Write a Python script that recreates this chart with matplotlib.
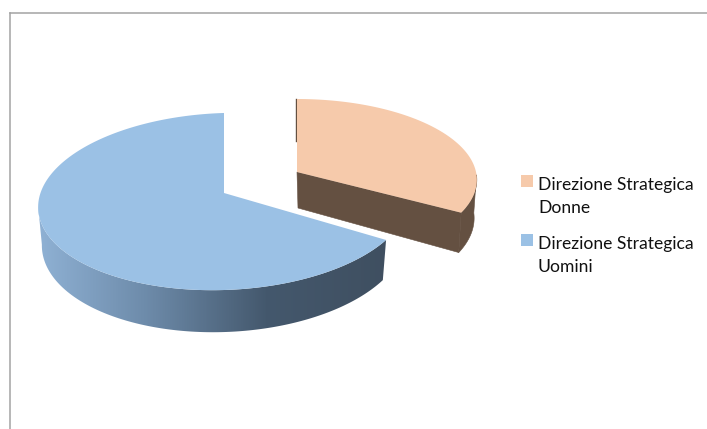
import numpy as np
import matplotlib
matplotlib.use("Agg")
import matplotlib.pyplot as plt
from matplotlib.colors import LinearSegmentedColormap
from matplotlib.legend_handler import HandlerPatch
from matplotlib.patches import Patch, Polygon, Rectangle

# Data
labels = ["Direzione Strategica\nDonne", "Direzione Strategica\nUomini"]
shares = [33.75, 66.25]

W, H = 707, 429
colors_top = ["#F6CAAB", "#9BC1E5"]
color_orange_side = "#645041"
side_cmap = LinearSegmentedColormap.from_list(
    "side", [(0, "#8FB1D4"), (0.3, "#6E8CAB"), (0.65, "#44586D"), (1, "#3F4F60")])

plt.rcParams["font.family"] = ["Lato", "DejaVu Sans"]
fig = plt.figure(figsize=(W / 100, H / 100), dpi=100)
X0, Y0 = 9.6, 13.0
ax = fig.add_axes([X0 / W, 0, 1 - X0 / W, (H - Y0) / H])
ax.set_xlim(X0, W)
ax.set_ylim(H, Y0)
ax.set_xticks([])
ax.set_yticks([])
for s in ("right", "bottom"):
    ax.spines[s].set_visible(False)
for s in ("left", "top"):
    ax.spines[s].set_color("#a3a3a3")
    ax.spines[s].set_linewidth(1.1)

K = 0.096  # perspective strength


def project(theta, cx, cy, rx, ry, shear):
    c, s = np.cos(theta), np.sin(theta)
    f = 1 / (1 + K * c)
    x = rx * s * f
    y = -ry * c * f - shear * x
    return cx + x, cy + y, f


def ring(start, end, geom, n=160):
    th = np.radians(np.linspace(start, end, n))
    return project(th, *geom)


def lower(x, y, f, cx, depth, shrink=0.98):
    return cx + shrink * (x - cx), y + depth * f


split = 360 * shares[0] / sum(shares)
DEPTH = 38

# Orange slice: runs from 0 deg to the split
g_o = (297, 172, 179, 80, 0.0)
x, y, f = ring(0, split - 2.5, g_o)
ax0, ay0 = g_o[0], g_o[1]
xs, ys, fs = ring(92, split - 2.5, g_o)
bx, by = lower(xs, ys, fs, g_o[0], DEPTH, shrink=0.985)
wall = np.column_stack([np.r_[xs, bx[::-1]], np.r_[ys, by[::-1]]])
cut = [(ax0, ay0), (xs[-1], ys[-1]), (bx[-1], by[-1]), (ax0 + 1, ay0 + 36)]
for poly in (wall, cut):
    ax.add_patch(Polygon(poly, closed=True, fc=color_orange_side,
                         ec=color_orange_side, lw=0.4, zorder=1))
ax.plot([x[0] - 0.8, x[0] + 0.58 * (ax0 - x[0]) - 0.8], [y[0], y[0] + 0.58 * (ay0 - y[0])],
        color=color_orange_side, lw=1.0, zorder=1)
ax.add_patch(Polygon(np.column_stack([np.r_[ax0, x], np.r_[ay0, y]]),
                     closed=True, fc=colors_top[0], ec="none", zorder=2))

# Blue slice: runs from the split to 360 deg
g_b = (224, 193, 185, 87.7, 0.03)
x, y, f = ring(split + 2.5, 360, g_b, n=240)
xs, ys, fs = ring(split + 2.5, 265, g_b, n=200)
bx, by = lower(xs, ys, fs, g_b[0], DEPTH)
outline = np.column_stack([np.r_[xs, bx[::-1]], np.r_[ys, by[::-1]]])
clip = Polygon(outline, closed=True, transform=ax.transData, fc="none", ec="none")
ax.add_patch(clip)
grad = ax.imshow(np.linspace(0, 1, 400)[None, :], cmap=side_cmap, vmin=0, vmax=1,
                 extent=(38, 390, 340, 200), aspect="auto", zorder=3, interpolation="bilinear")
grad.set_clip_path(clip)
ax.set_xlim(X0, W)
ax.set_ylim(H, Y0)
ax.add_patch(Polygon(np.column_stack([np.r_[g_b[0], x], np.r_[g_b[1], y]]),
                     closed=True, fc=colors_top[1], ec="none", zorder=4))

# Legend
FS = 12.6
SWATCH_LIFT = 11.5


def first_line_swatch(legend, orig_handle, xdescent, ydescent, width, height, fontsize):
    # swatch sits beside the first of the two text lines
    return Rectangle((-xdescent, -ydescent + SWATCH_LIFT), width, height)


handles = [Patch(fc=c, ec="none") for c in colors_top]
leg = ax.legend(handles, labels, loc="upper left", bbox_to_anchor=(521 / W, 1 - 177 / H),
                bbox_transform=fig.transFigure, frameon=False, prop={"size": FS},
                handlelength=0.69, handleheight=0.69, handletextpad=0.28,
                labelspacing=1.15, borderpad=0, borderaxespad=0, labelcolor="#111111",
                handler_map={Patch: HandlerPatch(patch_func=first_line_swatch)})
for t in leg.get_texts():
    t.set_linespacing(1.52)

fig.savefig("out.png", dpi=100)
